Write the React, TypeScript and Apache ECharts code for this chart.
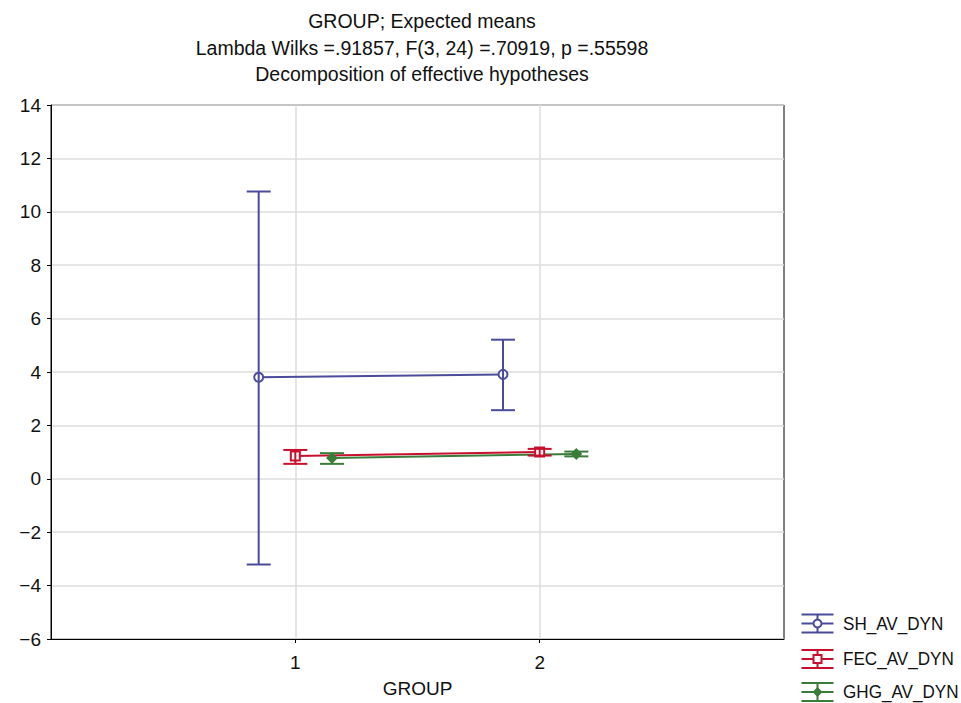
import React, { useEffect, useRef } from "react";
import * as echarts from "echarts";

const groups = [1, 2];
const shMean = [3.8, 3.91];
const shLow = [-3.21, 2.57];
const shHigh = [10.76, 5.21];
const fecMean = [0.85, 1.0];
const fecLow = [0.56, 0.87];
const fecHigh = [1.08, 1.12];
const ghgMean = [0.78, 0.93];
const ghgLow = [0.56, 0.84];
const ghgHigh = [0.96, 1.02];
const seriesNames = ["SH_AV_DYN", "FEC_AV_DYN", "GHG_AV_DYN"];
const yTicks = [-6, -4, -2, 0, 2, 4, 6, 8, 10, 12, 14];
const titleLines = [
  "GROUP; Expected means",
  "Lambda Wilks =.91857, F(3, 24) =.70919, p =.55598",
  "Decomposition of effective hypotheses",
];

const COLORS = ["#4b4b9b", "#c8102e", "#3a7d3a"];
const OFFSETS = [-0.15, 0, 0.15];
const SYMBOLS = ["emptyCircle", "emptyRect", "diamond"];
const FONT = "'Liberation Sans', Arial, sans-serif";

function buildSeries() {
  const all = [
    { mean: shMean, low: shLow, high: shHigh },
    { mean: fecMean, low: fecLow, high: fecHigh },
    { mean: ghgMean, low: ghgLow, high: ghgHigh },
  ];
  const out: any[] = [];
  all.forEach((s, i) => {
    const color = COLORS[i];
    out.push({
      name: seriesNames[i],
      type: "line",
      data: groups.map((g, k) => [g + OFFSETS[i], s.mean[k]]),
      symbol: SYMBOLS[i],
      symbolSize: 9,
      showAllSymbol: true,
      lineStyle: { color, width: 2 },
      itemStyle: { color, borderColor: color, borderWidth: 2 },
      z: 3,
    });
    out.push({
      name: seriesNames[i] + "_err",
      type: "custom",
      data: groups.map((g, k) => [g + OFFSETS[i], s.mean[k], s.low[k], s.high[k]]),
      encode: { x: 0, y: 1 },
      z: 4,
      renderItem: (params: any, api: any) => {
        const x = api.value(0);
        const top = api.coord([x, api.value(3)]);
        const bot = api.coord([x, api.value(2)]);
        const hw = 12;
        const style = { stroke: color, lineWidth: 2 };
        return {
          type: "group",
          children: [
            { type: "line", shape: { x1: top[0], y1: top[1], x2: bot[0], y2: bot[1] }, style },
            { type: "line", shape: { x1: top[0] - hw, y1: top[1], x2: top[0] + hw, y2: top[1] }, style },
            { type: "line", shape: { x1: bot[0] - hw, y1: bot[1], x2: bot[0] + hw, y2: bot[1] }, style },
          ],
        };
      },
    });
  });
  return out;
}

function legendGraphics() {
  const centers = [623.5, 659, 692];
  const cx = 817.5;
  const els: any[] = [];
  centers.forEach((cy, i) => {
    const color = COLORS[i];
    const st = { stroke: color, lineWidth: 2 };
    els.push({ type: "line", shape: { x1: cx - 16, y1: cy - 9, x2: cx + 16, y2: cy - 9 }, style: st });
    els.push({ type: "line", shape: { x1: cx - 16, y1: cy + 9, x2: cx + 16, y2: cy + 9 }, style: st });
    els.push({ type: "line", shape: { x1: cx - 16, y1: cy, x2: cx + 16, y2: cy }, style: st });
    els.push({ type: "line", shape: { x1: cx, y1: cy - 9, x2: cx, y2: cy + 9 }, style: st });
    if (i === 0) {
      els.push({ type: "circle", shape: { cx, cy, r: 4 }, style: { fill: "#fff", stroke: color, lineWidth: 2 } });
    } else if (i === 1) {
      els.push({ type: "rect", shape: { x: cx - 4, y: cy - 4, width: 8, height: 8 }, style: { fill: "#fff", stroke: color, lineWidth: 2 } });
    } else {
      els.push({ type: "polygon", shape: { points: [[cx, cy - 5], [cx + 5, cy], [cx, cy + 5], [cx - 5, cy]] }, style: { fill: color } });
    }
    els.push({
      type: "text",
      x: 843,
      y: cy,
      scaleX: 0.9,
      style: { text: seriesNames[i], fill: "#111", font: `19px ${FONT}`, verticalAlign: "middle" },
    });
  });
  return els;
}

export default function App() {
  const ref = useRef<HTMLDivElement>(null);
  useEffect(() => {
    if (!ref.current) return;
    const chart = echarts.init(ref.current, null, { renderer: "svg" });
    chart.setOption({
      animation: false,
      backgroundColor: "#fff",
      title: {
        text: titleLines.join("\n"),
        left: 417,
        top: 3,
        textAlign: "center",
        textStyle: { fontFamily: FONT, fontSize: 19.5, fontWeight: "normal", color: "#111", lineHeight: 26.5 },
      },
      grid: { left: 51, top: 105, right: 177, bottom: 63, show: true, borderColor: "#000", borderWidth: 1, backgroundColor: "transparent" },
      xAxis: {
        type: "value",
        min: 0,
        max: 3,
        interval: 1,
        name: "GROUP",
        nameLocation: "middle",
        nameGap: 40,
        nameTextStyle: { fontFamily: FONT, fontSize: 19, color: "#111" },
        axisLine: { show: true, onZero: false, lineStyle: { color: "#000" } },
        axisTick: { show: true, length: 4, inside: false, customValues: groups, lineStyle: { color: "#000" } },
        axisLabel: {
          fontFamily: FONT,
          fontSize: 19,
          color: "#111",
          margin: 14,
          customValues: groups,
          formatter: (v: number) => String(v),
        },
        splitLine: { show: true, lineStyle: { color: "#dcdcdc", width: 1.5 } },
      },
      yAxis: {
        type: "value",
        min: yTicks[0],
        max: yTicks[yTicks.length - 1],
        interval: 2,
        axisLine: { show: true, onZero: false, lineStyle: { color: "#000" } },
        axisTick: { show: true, length: 4, inside: false, lineStyle: { color: "#000" } },
        axisLabel: {
          fontFamily: FONT,
          fontSize: 19,
          color: "#111",
          margin: 10,
          formatter: (v: number) => (v < 0 ? "\u2212" + Math.abs(v) : String(v)),
        },
        splitLine: { show: true, lineStyle: { color: "#dcdcdc", width: 1.5 } },
      },
      series: buildSeries(),
      graphic: legendGraphics(),
    });
    return () => chart.dispose();
  }, []);
  return <div ref={ref} style={{ width: 961, height: 703, position: "absolute", left: 0, top: 0 }} />;
}
